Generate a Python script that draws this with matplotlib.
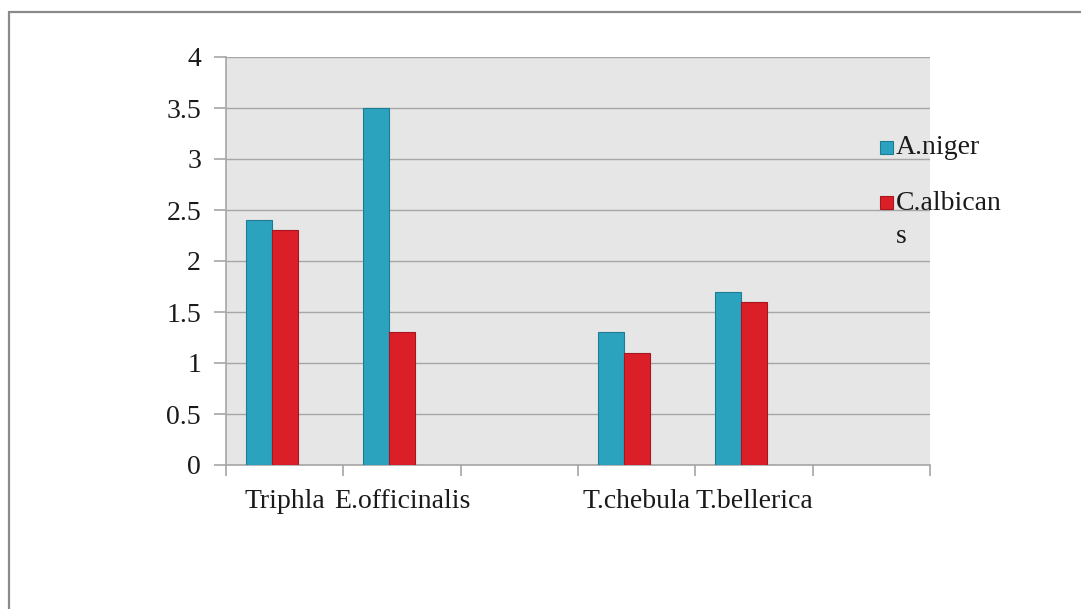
import matplotlib.pyplot as plt
from matplotlib.patches import Rectangle

# Данные
categories = ['Triphla', 'E.officinalis', '', 'T.chebula', 'T.bellerica', '']
a_niger = [2.4, 3.5, None, 1.3, 1.7, None]
c_albicans = [2.3, 1.3, None, 1.1, 1.6, None]
series_names = ['A.niger', 'C.albican\ns']
colors = ['#2ba3bf', '#db1f29']
edges = ['#1f7b91', '#a5161d']
yticks = [0, 0.5, 1, 1.5, 2, 2.5, 3, 3.5, 4]
ytick_labels = ['0', '0.5', '1', '1.5', '2', '2.5', '3', '3.5', '4']

plt.rcParams['font.family'] = ['Liberation Serif', 'DejaVu Serif']

W, H = 1081, 609
fig = plt.figure(figsize=(W / 100, H / 100), dpi=100)
fig.patch.set_facecolor('white')

# Рамка вокруг диаграммы
fig.patches.append(Rectangle((9 / W, -0.05), 1.2, 1 - 12 / H + 0.05,
                             transform=fig.transFigure, fill=False,
                             edgecolor='#8a8a8a', linewidth=1.6))

ax = fig.add_axes([226 / W, 1 - 465 / H, 704 / W, 408 / H])
ax.set_facecolor('#e6e6e6')

w = 1 / 4.5
x = list(range(len(categories)))
for i, vals in enumerate([a_niger, c_albicans]):
    xs = [xi + (i - 1.5) * w + w / 2 for xi, v in zip(x, vals) if v is not None]
    hs = [v for v in vals if v is not None]
    ax.bar(xs, hs, width=w, color=colors[i], edgecolor=edges[i], linewidth=0.8, zorder=3)

ax.set_xlim(-0.5, len(categories) - 0.5)
ax.set_ylim(0, 4)
ax.set_yticks(yticks)
ax.set_yticklabels(ytick_labels)
ax.grid(axis='y', color='#a6a6a6', linewidth=1.0, zorder=1)

ax.set_xticks(x)
ax.set_xticklabels(categories)
ax.set_xticks([xi - 0.5 for xi in x] + [len(categories) - 0.5], minor=True)
ax.tick_params(axis='x', which='major', length=0, pad=17, labelsize=20, labelcolor='#1a1a1a')
ax.tick_params(axis='x', which='minor', length=8, color='#a6a6a6', width=1.2)
ax.tick_params(axis='y', length=9, color='#a6a6a6', width=1.2, pad=9,
               labelsize=20, labelcolor='#1a1a1a')

for s in ['top', 'right']:
    ax.spines[s].set_visible(False)
for s in ['left', 'bottom']:
    ax.spines[s].set_color('#a6a6a6')
    ax.spines[s].set_linewidth(1.2)

# Легенда
for i, name in enumerate(series_names):
    y0 = [141, 196][i]
    fig.patches.append(Rectangle((880 / W, 1 - (y0 + 13) / H), 13 / W, 13 / H,
                                 transform=fig.transFigure, facecolor=colors[i],
                                 edgecolor=edges[i], linewidth=0.8, zorder=5))
    if '\n' in name:
        fig.text(896 / W, 1 - (y0 + 6.5 - 11) / H, name, fontsize=20, color='#1a1a1a',
                 ha='left', va='top', linespacing=1.4)
    else:
        fig.text(896 / W, 1 - (y0 + 6.5) / H, name, fontsize=20, color='#1a1a1a',
                 ha='left', va='center')

fig.savefig('out.png', dpi=100)
